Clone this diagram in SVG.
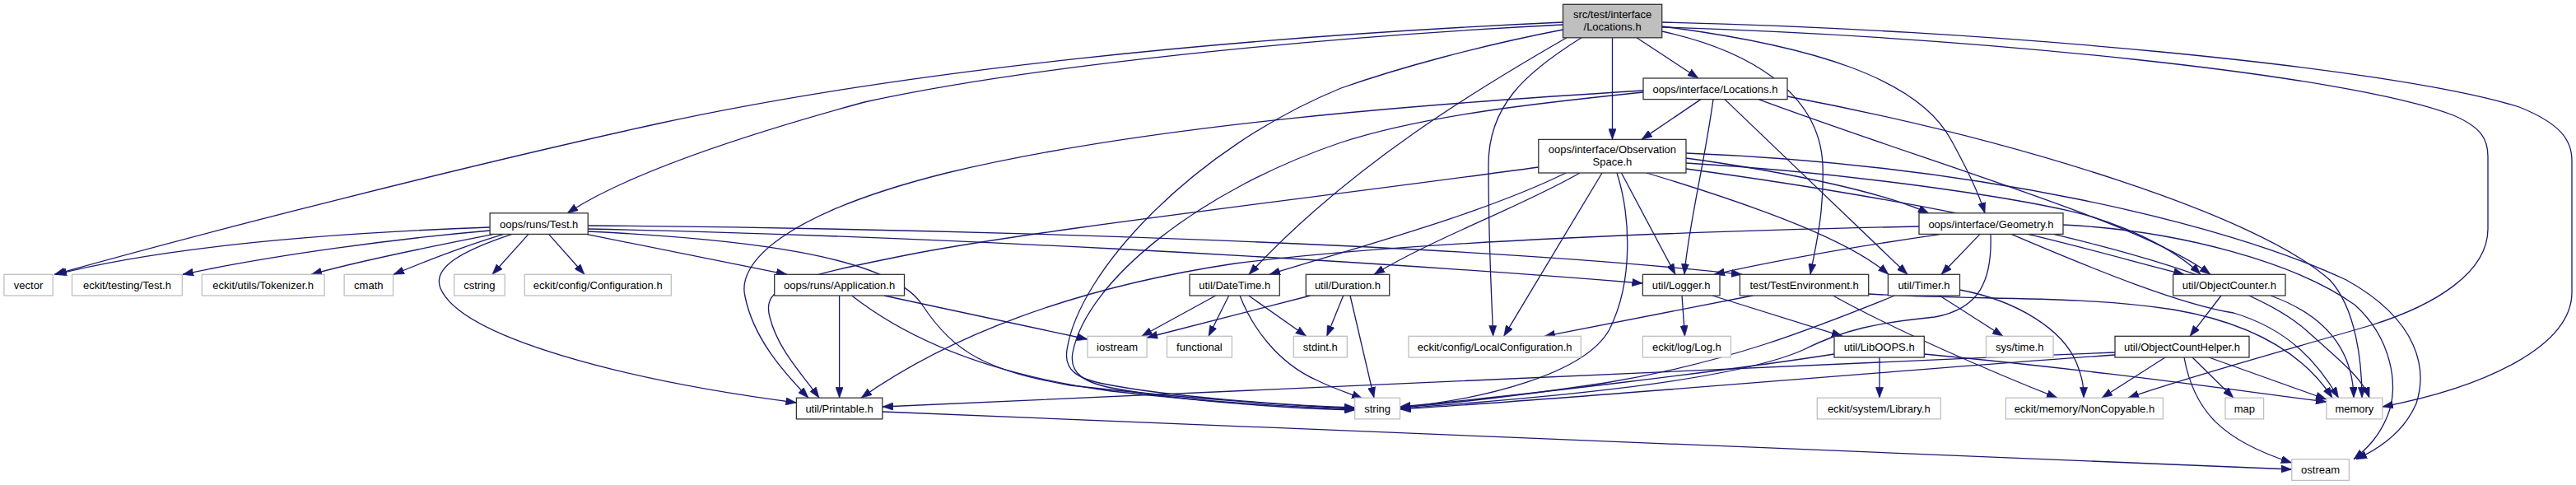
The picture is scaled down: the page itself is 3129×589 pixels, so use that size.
<svg xmlns="http://www.w3.org/2000/svg" width="3129" height="589" viewBox="0 0 3129 589">
<style>
.n rect{fill:#fff;stroke:#333;stroke-width:1.3}
.x rect{fill:#fff;stroke:#bfbfbf;stroke-width:1.3}
.r rect{fill:#bfbfbf;stroke:#333;stroke-width:1.3}
text{font-family:"Liberation Sans",Arial,Helvetica,sans-serif;font-size:13px;text-anchor:middle;fill:#000}
#edges path{fill:none;stroke:#191970;stroke-width:1.3;marker-end:url(#a)}
</style>
<defs>
<marker id="a" viewBox="0 0 13 9.4" refX="13" refY="4.7" markerWidth="13" markerHeight="9.4" markerUnits="userSpaceOnUse" orient="auto">
<path d="M0,0 L13,4.7 L0,9.4 z" fill="#191970" stroke="#191970" stroke-width="0.5"/>
</marker>
</defs>
<rect width="3129" height="589" fill="#fff"/>
<g id="edges">
<path d="M1898.5,27 C1500,45 1100,85 800,150 C550,205 250,282 66,333.3"/>
<path d="M1898.5,30 C1600,45 1250,80 1050,124 C900,165 760,212 689,259"/>
<path d="M1988,45.8 L2063,95"/>
<path d="M1958.5,45.8 L1958.5,169.4"/>
<path d="M2018.7,32 C2200,55 2330,95 2370,170 C2392,210 2404,236 2411,259"/>
<path d="M1903,45.8 C1800,105 1640,200 1517,333.3"/>
<path d="M1921,45.8 C1850,90 1808,130 1808,200 C1808,300 1812,360 1813.6,408.3"/>
<path d="M1898.5,36 C1800,55 1700,82 1629,107 C1450,180 1310,330 1296,425 C1292,450 1310,460 1340,466 C1420,482 1560,492 1645.7,495"/>
<path d="M2018.7,38 C2120,60 2210,110 2214,200 C2216,260 2205,300 2199,333.3"/>
<path d="M2018.7,27 C2400,35 2900,80 3060,130 C3110,150 3124,170 3124,195 L3124,355 C3124,420 3020,470 2893.9,494"/>
<path d="M2018.7,33 C2400,45 2850,90 2980,140 C3015,155 3022,170 3022,190 L3022,278 C3022,330 2960,370 2880,395 C2760,430 2650,460 2585,483.2"/>
<path d="M2066,120.6 L1994,169.4"/>
<path d="M2081,120.6 C2070,200 2050,280 2046,333.3"/>
<path d="M2095,120.6 L2317,333.3"/>
<path d="M2136,120.6 C2350,200 2600,270 2685,333.3"/>
<path d="M2171,117 C2450,170 2740,260 2830,340 C2862,375 2869,440 2869,483.2"/>
<path d="M1996,110 C1750,125 1400,150 1150,210 C950,260 895,320 905,360 C915,410 950,450 982,483.2"/>
<path d="M1996,112 C1870,125 1730,140 1629,173 C1460,230 1320,340 1303,428 C1298,455 1320,465 1350,471 C1440,488 1570,496 1645.7,498"/>
<path d="M1868.8,203 C1600,240 1250,280 1100,310 C960,338 925,348 935,385 C945,425 975,455 995,483.2"/>
<path d="M1902,210 C1800,260 1650,300 1542,333.3"/>
<path d="M1919,210 C1850,250 1740,290 1669,333.3"/>
<path d="M1946,210 L1826.7,408.3"/>
<path d="M1964,210 C1980,260 1985,340 1955,400 C1925,455 1800,485 1700.5,495"/>
<path d="M1969.5,210 L2035,333.3"/>
<path d="M2000,210 C2150,255 2250,295 2294,333.3"/>
<path d="M2048,192 C2180,210 2290,235 2343,259"/>
<path d="M2048,198 C2250,210 2450,240 2530,260 C2600,280 2650,310 2673,333.3"/>
<path d="M2048,205 C2450,260 2720,330 2800,400 C2845,440 2870,460 2878,483.2"/>
<path d="M2048,186 C2400,200 2700,270 2850,340 C2940,390 2948,450 2935,490 C2920,525 2890,545 2862,557.7"/>
<path d="M595.1,276 C400,283 200,300 68,333.3"/>
<path d="M595.1,280 C480,290 330,310 222,333.3"/>
<path d="M600,284.4 C520,300 440,316 378,333.3"/>
<path d="M612,284.4 C560,300 515,318 478,333.3"/>
<path d="M642,284.4 L598,333.3"/>
<path d="M666.5,284.4 L710,333.3"/>
<path d="M712,284.4 L956,333.3"/>
<path d="M622,284.4 C560,305 525,325 535,350 C560,410 760,462 967.4,489"/>
<path d="M714.2,278 C1100,286 1600,312 1995.4,344"/>
<path d="M714.2,274 C1200,278 1800,298 2116,333.3"/>
<path d="M714.2,281 C900,290 1080,310 1120,370 C1160,430 1200,450 1300,468 C1450,485 1560,492 1645.7,496"/>
<path d="M2331,275 C2000,282 1700,295 1500,320 C1300,350 1150,410 1046,483.2"/>
<path d="M2358,284.4 C2250,300 2150,318 2082,333.3"/>
<path d="M2405,284.4 L2358,333.3"/>
<path d="M2418,284.4 C2420,340 2405,375 2350,385 C2280,392 2240,400 2190,425 C2100,465 1850,485 1700.5,496"/>
<path d="M2463,284.4 C2530,300 2600,320 2653,333.3"/>
<path d="M2443,284.4 C2550,330 2650,370 2713,380 C2780,400 2815,440 2840.5,483.2"/>
<path d="M2506,273 C2650,280 2790,320 2860,370 C2905,410 2915,470 2900,505 C2890,530 2875,545 2859,557.7"/>
<path d="M1019.6,359 L1019.6,483.2"/>
<path d="M1073.8,359 L1321,412"/>
<path d="M1034.6,359 C1100,410 1200,455 1350,475 C1480,490 1580,494 1645.7,497"/>
<path d="M1476.7,359 L1386.7,408.3"/>
<path d="M1492.7,359 L1468,408.3"/>
<path d="M1516.7,359 L1586.7,408.3"/>
<path d="M1506,359 C1520,395 1550,440 1600,462 C1620,472 1640,478 1655,484"/>
<path d="M1591.7,359 L1393.1,410"/>
<path d="M1631.7,359 L1611.7,408.3"/>
<path d="M1640,359 L1669,483.2"/>
<path d="M2043,359 L2046.5,408.3"/>
<path d="M2080,359 L2238,408.3"/>
<path d="M2129,359 L1876,408.3"/>
<path d="M2226.5,359 C2300,400 2420,452 2499,483.2"/>
<path d="M2269.7,357 C2400,365 2520,358 2640,376 C2750,395 2805,440 2833,483.2"/>
<path d="M2356,359 L2433,408.3"/>
<path d="M2380.5,352 C2450,365 2505,400 2522,440 C2530,460 2531,470 2531,483.2"/>
<path d="M2301.6,359 C2200,400 2100,440 1950,465 C1850,480 1760,490 1700.5,495"/>
<path d="M2698,359 L2660,408.3"/>
<path d="M2758,359 C2830,385 2858,430 2859,483.2"/>
<path d="M2283,434 L2283,483.2"/>
<path d="M2228,430 C2100,450 1850,480 1700.5,494"/>
<path d="M2337.3,430 C2550,450 2700,472 2825.9,488"/>
<path d="M2569,428 C2000,450 1400,482 1071.8,494"/>
<path d="M2569,431 C2300,450 1900,485 1700.5,497"/>
<path d="M2630,434 L2553,483.2"/>
<path d="M2663,434 L2713,483.2"/>
<path d="M2683,434 L2825.9,485"/>
<path d="M2653,434 C2665,500 2700,535 2783.8,562"/>
<path d="M1071.8,500 C1600,520 2300,552 2783.8,570"/>
</g>
<g id="n_root" class="r"><rect x="1898.5" y="5.3" width="120.2" height="40.5"/><text x="1958.6" y="22.4">src/test/interface</text><text x="1958.6" y="37.4">/Locations.h</text></g>
<g id="n_iface_locations" class="n"><rect x="1996" y="95" width="175" height="25.6"/><text x="2083.5" y="112.5">oops/interface/Locations.h</text></g>
<g id="n_obsspace" class="n"><rect x="1868.8" y="169.4" width="179.2" height="40.6"/><text x="1958.4" y="186">oops/interface/Observation</text><text x="1958.4" y="201">Space.h</text></g>
<g id="n_runs_test" class="n"><rect x="595.1" y="258.8" width="119.1" height="25.6"/><text x="654.65" y="276.5">oops/runs/Test.h</text></g>
<g id="n_geometry" class="n"><rect x="2331" y="258.8" width="175" height="25.6"/><text x="2418.5" y="276.5">oops/interface/Geometry.h</text></g>
<g id="n_vector" class="x"><rect x="4.9" y="333.3" width="59.3" height="25.7"/><text x="34.55" y="350.7">vector</text></g>
<g id="n_testing_test" class="x"><rect x="87.5" y="333.3" width="133.8" height="25.7"/><text x="154.4" y="350.7">eckit/testing/Test.h</text></g>
<g id="n_tokenizer" class="x"><rect x="245.3" y="333.3" width="148.8" height="25.7"/><text x="319.7" y="350.7">eckit/utils/Tokenizer.h</text></g>
<g id="n_cmath" class="x"><rect x="418.1" y="333.3" width="59.4" height="25.7"/><text x="447.8" y="350.7">cmath</text></g>
<g id="n_cstring" class="x"><rect x="551.6" y="333.3" width="61.6" height="25.7"/><text x="582.4" y="350.7">cstring</text></g>
<g id="n_configuration" class="x"><rect x="637.2" y="333.3" width="178.1" height="25.7"/><text x="726.25" y="350.7">eckit/config/Configuration.h</text></g>
<g id="n_application" class="n"><rect x="940.7" y="333.3" width="157.8" height="25.7"/><text x="1019.6" y="350.7">oops/runs/Application.h</text></g>
<g id="n_datetime" class="n"><rect x="1445" y="333.3" width="109.3" height="25.7"/><text x="1499.65" y="350.7">util/DateTime.h</text></g>
<g id="n_duration" class="n"><rect x="1586.3" y="333.3" width="101.4" height="25.7"/><text x="1637" y="350.7">util/Duration.h</text></g>
<g id="n_logger" class="n"><rect x="1995.4" y="333.3" width="93.6" height="25.7"/><text x="2042.2" y="350.7">util/Logger.h</text></g>
<g id="n_testenv" class="n"><rect x="2113.4" y="333.3" width="156.3" height="25.7"/><text x="2191.55" y="350.7">test/TestEnvironment.h</text></g>
<g id="n_timer" class="n"><rect x="2293.4" y="333.3" width="87.1" height="25.7"/><text x="2336.95" y="350.7">util/Timer.h</text></g>
<g id="n_objcounter" class="n"><rect x="2639.6" y="333.3" width="136.4" height="25.7"/><text x="2707.8" y="350.7">util/ObjectCounter.h</text></g>
<g id="n_iostream" class="x"><rect x="1321" y="408.3" width="72.1" height="25.7"/><text x="1357.05" y="425.7">iostream</text></g>
<g id="n_functional" class="x"><rect x="1417.5" y="408.3" width="78.9" height="25.7"/><text x="1456.95" y="425.7">functional</text></g>
<g id="n_stdint" class="x"><rect x="1571.3" y="408.3" width="65" height="25.7"/><text x="1603.8" y="425.7">stdint.h</text></g>
<g id="n_localconf" class="x"><rect x="1711" y="408.3" width="209.3" height="25.7"/><text x="1815.65" y="425.7">eckit/config/LocalConfiguration.h</text></g>
<g id="n_log" class="x"><rect x="1995.4" y="408.3" width="107" height="25.7"/><text x="2048.9" y="425.7">eckit/log/Log.h</text></g>
<g id="n_liboops" class="n"><rect x="2228" y="408.3" width="109.3" height="25.7"/><text x="2282.65" y="425.7">util/LibOOPS.h</text></g>
<g id="n_systime" class="x"><rect x="2412.5" y="408.3" width="81.5" height="25.7"/><text x="2453.25" y="425.7">sys/time.h</text></g>
<g id="n_objcounthelper" class="n"><rect x="2569" y="408.3" width="163" height="25.7"/><text x="2650.5" y="425.7">util/ObjectCountHelper.h</text></g>
<g id="n_printable" class="n"><rect x="967.4" y="483.2" width="104.4" height="25.7"/><text x="1019.6" y="500.6">util/Printable.h</text></g>
<g id="n_string" class="x"><rect x="1645.7" y="483.2" width="54.8" height="25.7"/><text x="1673.1" y="500.6">string</text></g>
<g id="n_library" class="x"><rect x="2207.3" y="483.2" width="149.9" height="25.7"/><text x="2282.25" y="500.6">eckit/system/Library.h</text></g>
<g id="n_noncopyable" class="x"><rect x="2436.4" y="483.2" width="191" height="25.7"/><text x="2531.9" y="500.6">eckit/memory/NonCopyable.h</text></g>
<g id="n_map" class="x"><rect x="2703" y="483.2" width="46.6" height="25.7"/><text x="2726.3" y="500.6">map</text></g>
<g id="n_memory" class="x"><rect x="2825.9" y="483.2" width="68" height="25.7"/><text x="2859.9" y="500.6">memory</text></g>
<g id="n_ostream" class="x"><rect x="2783.8" y="557.7" width="69.6" height="25.7"/><text x="2818.6" y="575.1">ostream</text></g>
</svg>
